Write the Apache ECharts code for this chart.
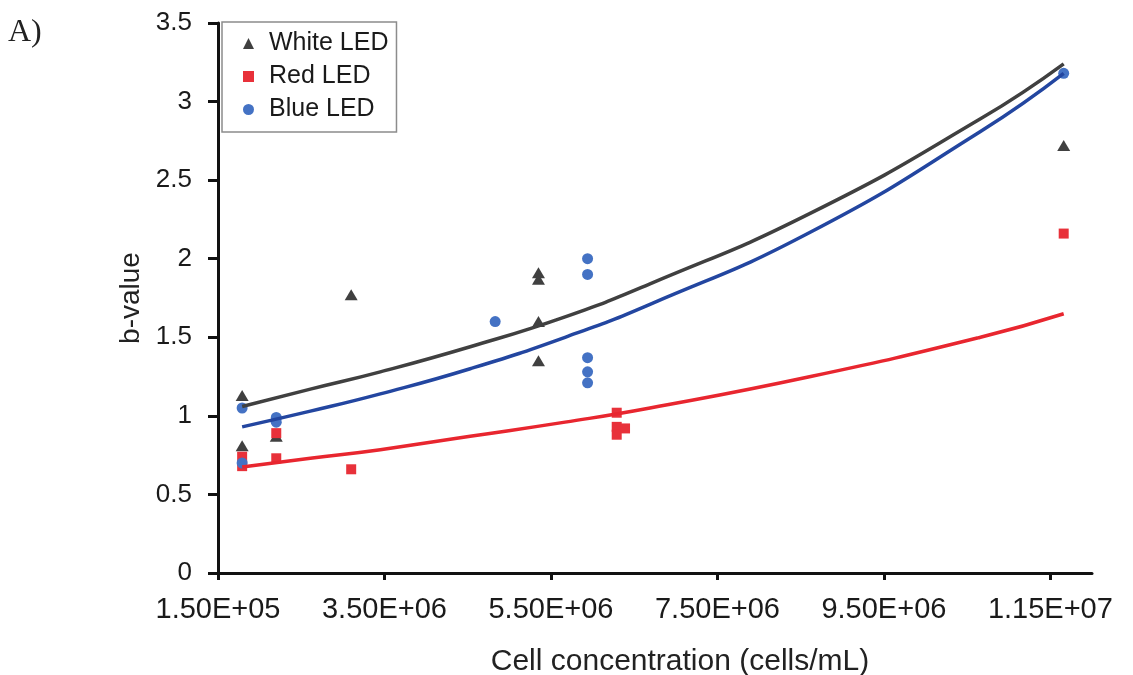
<!DOCTYPE html>
<html>
<head>
<meta charset="utf-8">
<script src="https://cdn.jsdelivr.net/npm/echarts@6/dist/echarts.min.js"></script>
<style>
html,body{margin:0;padding:0;background:#fff;}
#chart{width:1133px;height:675px;}
</style>
</head>
<body>
<div id="chart"></div>
<script>
// X tick positions (axis units, cells/mL) and their printed labels
const xTickValues = [1.5e6, 3.5e6, 5.5e6, 7.5e6, 9.5e6, 1.15e7];
const xTickLabels = ['1.50E+05', '3.50E+06', '5.50E+06', '7.50E+06', '9.50E+06', '1.15E+07'];

// Measured points [cell concentration, b-value]
const whiteLED = [
  [1.79e6, 1.13], [1.79e6, 0.81], [2.20e6, 0.87], [3.10e6, 1.77],
  [5.35e6, 1.91], [5.35e6, 1.87], [5.35e6, 1.60], [5.35e6, 1.35],
  [1.166e7, 2.72]
];
const redLED = [
  [1.79e6, 0.74], [1.79e6, 0.68], [2.20e6, 0.89], [2.20e6, 0.73],
  [3.10e6, 0.66], [6.29e6, 1.02], [6.29e6, 0.93], [6.29e6, 0.88],
  [6.39e6, 0.92], [1.166e7, 2.16]
];
const blueLED = [
  [1.79e6, 1.05], [1.79e6, 0.70], [2.20e6, 0.99], [2.20e6, 0.96],
  [4.83e6, 1.60], [5.94e6, 2.00], [5.94e6, 1.90], [5.94e6, 1.37],
  [5.94e6, 1.28], [5.94e6, 1.21], [1.166e7, 3.18]
];

// Trend lines
const whiteTrend = [
  [1.79e6, 1.06], [2.61e6, 1.17], [3.45e6, 1.28], [4.53e6, 1.44], [5.67e6, 1.63],
  [6.69e6, 1.84], [8.62e6, 2.29], [1.066e7, 2.89], [1.166e7, 3.24]
];
const blueTrend = [
  [1.79e6, 0.93], [2.61e6, 1.03], [3.45e6, 1.14], [4.53e6, 1.30], [5.67e6, 1.50],
  [6.69e6, 1.71], [8.62e6, 2.17], [1.066e7, 2.81], [1.166e7, 3.18]
];
const redTrend = [
  [1.79e6, 0.675], [2.61e6, 0.73], [3.45e6, 0.785], [4.53e6, 0.87], [5.67e6, 0.96],
  [6.69e6, 1.05], [8.62e6, 1.25], [1.066e7, 1.50], [1.166e7, 1.65]
];

const FONT = "'Liberation Sans', Arial, sans-serif";
const chart = echarts.init(document.getElementById('chart'), null, {renderer: 'canvas'});

chart.setOption({
  backgroundColor: '#ffffff',
  animation: false,
  textStyle: {fontFamily: FONT},
  grid: {left: 218, top: 23, right: 41, bottom: 102, containLabel: false, outerBoundsMode: 'none'},
  graphic: [{
    type: 'text', left: 8, top: 17,
    style: {text: 'A)', font: "32px 'Liberation Serif', 'Times New Roman', serif", fill: '#222'}
  }],
  legend: {
    orient: 'vertical',
    left: 222, top: 22,
    padding: [9, 8, 10, 21],
    itemGap: 8,
    itemWidth: 11, itemHeight: 11,
    borderColor: '#8c8c8c', borderWidth: 1.5,
    backgroundColor: '#fff',
    textStyle: {fontSize: 25, color: '#1a1a1a', fontFamily: FONT, padding: [0, 0, 0, 10]},
    data: [
      {name: 'White LED', icon: 'triangle'},
      {name: 'Red LED', icon: 'rect'},
      {name: 'Blue LED', icon: 'circle'}
    ]
  },
  xAxis: {
    type: 'value',
    min: 1.5e6, max: 1.2e7,
    name: 'Cell concentration (cells/mL)',
    nameLocation: 'middle',
    nameGap: 74,
    nameTextStyle: {fontSize: 30, color: '#222', fontFamily: FONT, padding: [0, 0, 0, 50]},
    axisLine: {show: true, onZero: false, lineStyle: {color: '#111', width: 3}},
    axisTick: {show: true, length: 7, customValues: xTickValues, lineStyle: {color: '#111', width: 3}},
    axisLabel: {
      customValues: xTickValues,
      margin: 22,
      fontSize: 29, color: '#1a1a1a', fontFamily: FONT,
      formatter: function (v) {
        const i = xTickValues.findIndex(t => Math.abs(t - v) < 1);
        return i >= 0 ? xTickLabels[i] : '';
      }
    },
    splitLine: {show: false}
  },
  yAxis: {
    type: 'value',
    min: 0, max: 3.5, interval: 0.5,
    name: 'b-value',
    nameLocation: 'middle',
    nameGap: 73,
    nameRotate: 90,
    nameTextStyle: {fontSize: 28, color: '#222', fontFamily: FONT},
    axisLine: {show: true, lineStyle: {color: '#111', width: 3}},
    axisTick: {show: true, length: 10, lineStyle: {color: '#111', width: 3}},
    axisLabel: {margin: 26, fontSize: 26, color: '#1a1a1a', fontFamily: FONT},
    splitLine: {show: false}
  },
  series: [
    {
      name: 'White LED', type: 'scatter', data: whiteLED,
      symbol: 'triangle', symbolSize: [13, 11],
      itemStyle: {color: '#404040', opacity: 1}, z: 3
    },
    {
      name: 'Red LED', type: 'scatter', data: redLED,
      symbol: 'rect', symbolSize: 10,
      itemStyle: {color: '#e8313a', opacity: 1}, z: 3
    },
    {
      name: 'Blue LED', type: 'scatter', data: blueLED,
      symbol: 'circle', symbolSize: 11,
      itemStyle: {color: '#4472c4', opacity: 1}, z: 3
    },
    {
      name: 'White trend', type: 'line', data: whiteTrend, smooth: 0.5,
      showSymbol: false, silent: true,
      lineStyle: {color: '#404040', width: 3.5}, z: 4
    },
    {
      name: 'Blue trend', type: 'line', data: blueTrend, smooth: 0.5,
      showSymbol: false, silent: true,
      lineStyle: {color: '#2346a0', width: 3.5}, z: 4
    },
    {
      name: 'Red trend', type: 'line', data: redTrend, smooth: 0.5,
      showSymbol: false, silent: true,
      lineStyle: {color: '#e8262f', width: 3.5}, z: 4
    }
  ]
});
</script>
</body>
</html>
